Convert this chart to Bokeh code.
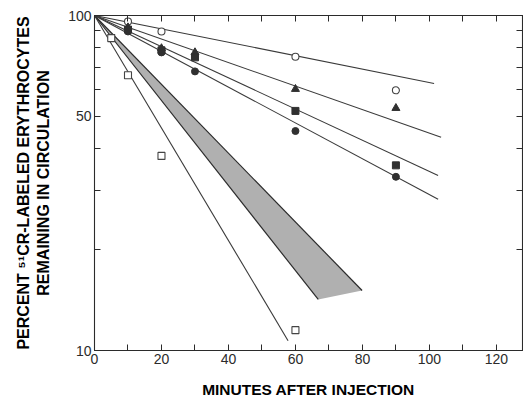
from bokeh.plotting import figure
from bokeh.models import (FixedTicker, LinearAxis, LogAxis, Range1d)
from bokeh.embed import file_html
from bokeh.resources import INLINE

# ---- data ----
open_circle_x = [10, 20, 60, 90]
open_circle_y = [96.0, 89.6, 75.3, 59.8]
triangle_x = [10, 20, 30, 60, 90]
triangle_y = [92.1, 79.8, 77.6, 60.3, 52.9]
square_x = [10, 20, 30, 60, 90]
square_y = [90.8, 78.7, 75.0, 51.9, 35.7]
circle_x = [10, 20, 30, 60, 90]
circle_y = [89.6, 77.6, 68.1, 45.2, 33.0]
open_square_x = [5, 10, 20, 60]
open_square_y = [85.6, 66.3, 38.1, 11.5]

# regression lines (start, end)
line_open_circle_x = [0, 101.4]
line_open_circle_y = [100, 62.7]
line_triangle_x = [0, 103.5]
line_triangle_y = [100, 43.3]
line_square_x = [0, 102.6]
line_square_y = [100, 33.3]
line_circle_x = [0, 102.6]
line_circle_y = [100, 28.3]
line_open_square_x = [0, 57.8]
line_open_square_y = [100, 10.7]

# shaded band (normal range)
band_upper_x = [0, 79.9]
band_upper_y = [100, 15.1]
band_lower_x = [0, 66.8]
band_lower_y = [100, 14.2]

x_major = [0, 20, 40, 60, 80, 100, 120]
x_minor = [10, 30, 50, 70, 90, 110]
x_all = [0, 10, 20, 30, 40, 50, 60, 70, 80, 90, 100, 110, 120]
y_ticks = [10, 20, 30, 40, 50, 60, 70, 80, 90, 100]
y_labels = {10: "10", 50: "50", 100: "100"}

INK = "#2b2b2b"
FONT = "Liberation Sans"

p = figure(width=523, height=400, output_backend="svg", toolbar_location=None,
           y_axis_type="log", x_range=Range1d(0, 127.8), y_range=Range1d(10, 100),
           min_border_left=94, min_border_right=1, min_border_top=15,
           min_border_bottom=49, x_axis_location=None, y_axis_location=None)
p.grid.visible = False
p.outline_line_color = INK
p.outline_line_width = 1.1
p.background_fill_color = "white"
p.border_fill_color = "white"

# ---- axes ----
xb = LinearAxis(ticker=FixedTicker(ticks=x_major, minor_ticks=x_minor))
xb.axis_label = "MINUTES AFTER INJECTION"
xb.axis_label_text_font = FONT
xb.axis_label_text_font_style = "bold"
xb.axis_label_text_font_size = "15.5px"
xb.axis_label_text_line_height = 1.0
xb.axis_label_text_color = "black"
xb.axis_label_standoff = 14
xb.major_label_text_font = FONT
xb.major_label_text_font_size = "14px"
xb.major_label_text_color = INK
xb.major_label_standoff = 3
xb.major_tick_in = 6
xb.major_tick_out = 0
xb.minor_tick_in = 6
xb.minor_tick_out = 0
xb.axis_line_color = INK
xb.major_tick_line_color = INK
xb.minor_tick_line_color = INK
p.add_layout(xb, "below")

yl = LogAxis(ticker=FixedTicker(ticks=y_ticks, minor_ticks=[]))
yl.major_label_overrides = {t: y_labels.get(t, "") for t in y_ticks}
yl.axis_label = "PERCENT \u2075\u00b9CR-LABELED ERYTHROCYTES\nREMAINING IN CIRCULATION"
yl.axis_label_text_font = FONT
yl.axis_label_text_font_style = "bold"
yl.axis_label_text_font_size = "16px"
yl.axis_label_text_color = "black"
yl.axis_label_standoff = 13
yl.major_label_text_font = FONT
yl.major_label_text_font_size = "14px"
yl.major_label_text_color = INK
yl.major_label_standoff = 3
yl.major_tick_in = 6
yl.major_tick_out = 0
yl.minor_tick_line_color = None
yl.axis_line_color = INK
yl.major_tick_line_color = INK
p.add_layout(yl, "left")

xt = LinearAxis(ticker=FixedTicker(ticks=x_all, minor_ticks=[]))
xt.major_label_text_font_size = "1px"
xt.major_label_text_color = None
xt.major_label_standoff = 0
xt.major_tick_in = 6
xt.major_tick_out = 0
xt.minor_tick_line_color = None
xt.axis_line_color = INK
xt.major_tick_line_color = INK
p.add_layout(xt, "above")

yr = LogAxis(ticker=FixedTicker(ticks=y_ticks, minor_ticks=[]))
yr.major_label_text_font_size = "1px"
yr.major_label_text_color = None
yr.major_label_standoff = 0
yr.major_tick_in = 6
yr.major_tick_out = 0
yr.minor_tick_line_color = None
yr.axis_line_color = INK
yr.major_tick_line_color = INK
p.add_layout(yr, "right")

# ---- shaded band ----
band_x = band_upper_x + band_lower_x[::-1]
band_y = band_upper_y + band_lower_y[::-1]
p.patch(band_x, band_y, fill_color="#b0b0b0", fill_alpha=1.0, line_color=None)
p.line(band_upper_x, band_upper_y, line_color=INK, line_width=1.2)
p.line(band_lower_x, band_lower_y, line_color=INK, line_width=1.2)

# ---- fitted lines ----
for lx, ly in [(line_open_circle_x, line_open_circle_y),
               (line_triangle_x, line_triangle_y),
               (line_square_x, line_square_y),
               (line_circle_x, line_circle_y),
               (line_open_square_x, line_open_square_y)]:
    p.line(lx, ly, line_color="#3a3a3a", line_width=1.1)

# ---- data points ----
p.scatter(open_circle_x, open_circle_y, marker="circle", size=7,
          fill_color="white", line_color="#444444", line_width=1.1)
p.scatter(triangle_x, triangle_y, marker="triangle", size=8,
          fill_color="#303030", line_color="#303030")
p.scatter(square_x, square_y, marker="square", size=7,
          fill_color="#303030", line_color="#303030")
p.scatter(circle_x, circle_y, marker="circle", size=7,
          fill_color="#303030", line_color="#303030")
p.scatter(open_square_x, open_square_y, marker="square", size=7,
          fill_color="white", line_color="#444444", line_width=1.1)

open("out.html", "w").write(file_html(p, INLINE))
